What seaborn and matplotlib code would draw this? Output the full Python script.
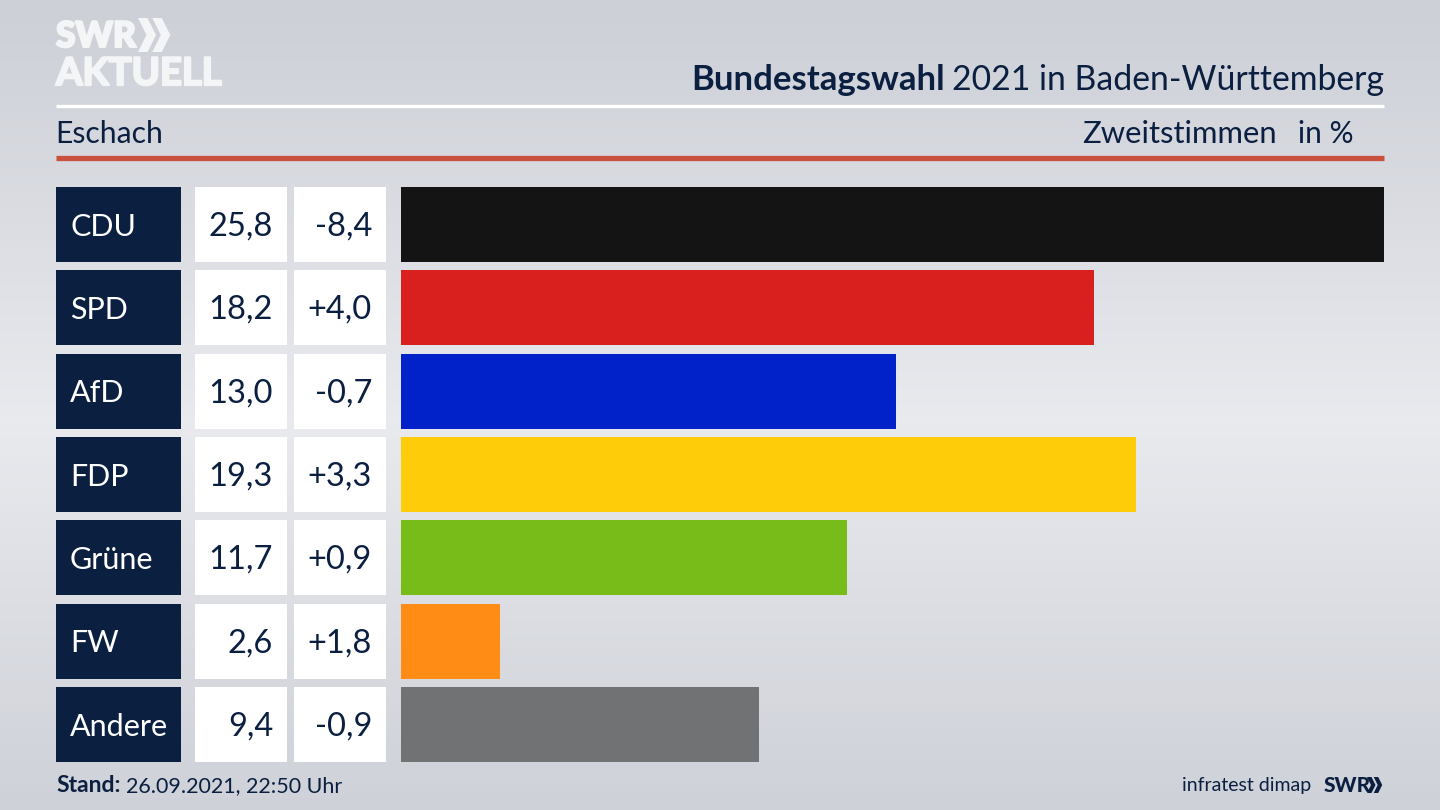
#!/usr/bin/env python3
import numpy as np
import pandas as pd
import matplotlib.pyplot as plt
import matplotlib.patheffects as pe
import seaborn as sns

sns.set_theme(style="white")
plt.rcParams["font.family"] = ["Lato", "DejaVu Sans"]

# data
parties = ["CDU", "SPD", "AfD", "FDP", "Grüne", "FW", "Andere"]
shares = [25.8, 18.2, 13.0, 19.3, 11.7, 2.6, 9.4]
changes = ["-8,4", "+4,0", "-0,7", "+3,3", "+0,9", "+1,8", "-0,9"]
share_labels = ["25,8", "18,2", "13,0", "19,3", "11,7", "2,6", "9,4"]
colors = ["#141414", "#d9201f", "#0022c8", "#ffcc0a", "#78bc1a", "#ff8c14", "#717274"]

NAVY = "#0b1f41"
LOGO = "#f4f5f6"
W, H = 1440, 810
# row area in pixels, with 0.9 wide bars the axes runs a bit past first/last bar
TOP, BOTTOM = 182.83, 766.17
BAR_L, BAR_R = 401, 1384

fig = plt.figure(figsize=(14.4, 8.1), dpi=100)

# background gradient
ax_bg = fig.add_axes([0, 0, 1, 1])
yy = np.linspace(0, 1, 200)
grad = 1 - np.abs(yy - 0.52) / 0.52
ax_bg.imshow(grad[:, None] ** 1.1, aspect="auto", cmap=sns.blend_palette(["#cdd0d7", "#e9eaee"], as_cmap=True),
             extent=[0, W, H, 0])
ax_bg.axis("off")

# overlay in pixel coords for header and footer
pix = fig.add_axes([0, 0, 1, 1])
pix.set_xlim(0, W)
pix.set_ylim(H, 0)
pix.axis("off")
pix.patch.set_alpha(0)

# same y scale as the bars, x in pixels
ax_tbl = fig.add_axes([0, 1 - BOTTOM / H, 1, (BOTTOM - TOP) / H])
ax_tbl.set_xlim(0, W)
ax_tbl.set_ylim(6.5, -0.5)
ax_tbl.axis("off")
ax_tbl.patch.set_alpha(0)

y = np.arange(len(parties))
ax_tbl.barh(y, 125, left=56, height=0.9, color=NAVY, lw=0)
ax_tbl.barh(y, 92, left=195, height=0.9, color="white", lw=0)
ax_tbl.barh(y, 92, left=294, height=0.9, color="white", lw=0)
for i in y:
    ax_tbl.text(70, i + 0.025, parties[i], color="white", fontsize=22, va="center", ha="left")
    ax_tbl.text(273, i + 0.025, share_labels[i], color=NAVY, fontsize=23.5, va="center", ha="right")
    ax_tbl.text(372, i + 0.025, changes[i], color=NAVY, fontsize=23.5, va="center", ha="right")

# bars
df = pd.DataFrame({"party": parties, "share": shares})
ax = fig.add_axes([BAR_L / W, 1 - BOTTOM / H, (BAR_R - BAR_L) / W, (BOTTOM - TOP) / H])
sns.barplot(data=df, y="party", x="share", hue="party", palette=colors, legend=False,
            width=0.9, saturation=1, linewidth=0, ax=ax)
ax.set_xlim(0, 25.8)
ax.set_ylim(6.5, -0.5)
ax.axis("off")
ax.patch.set_alpha(0)

# header
pix.plot([56, 1384], [105.5, 105.5], color="white", lw=2.4, solid_capstyle="butt")
pix.plot([56, 1384], [157.5, 157.5], color="#c9503c", lw=3.8, solid_capstyle="butt")
pix.text(945, 80, "Bundestagswahl", color=NAVY, fontsize=25, fontweight="bold", ha="right", va="center")
pix.text(1384, 80, "2021 in Baden-Württemberg", color=NAVY, fontsize=24.3, ha="right", va="center")
pix.text(55, 134, "Eschach", color=NAVY, fontsize=21.7, ha="left", va="center")
pix.text(1277, 134, "Zweitstimmen", color=NAVY, fontsize=22.3, ha="right", va="center")
pix.text(1354, 134, "in %", color=NAVY, fontsize=21.5, ha="right", va="center")


def chevrons(x0, y0, h, color):
    # two arrow heads of the logo
    w = h * 0.25
    t = h * 0.28
    for dx in (0, h * 0.42):
        xs = [x0 + dx, x0 + dx + t, x0 + dx + t + w, x0 + dx + t, x0 + dx, x0 + dx + w]
        ys = [y0, y0, y0 + h / 2, y0 + h, y0 + h, y0 + h / 2]
        pix.fill(xs, ys, color=color, lw=0)


# logo
heavy = [pe.withStroke(linewidth=1.6, foreground=LOGO)]
pix.text(56, 37, "SWR", color=LOGO, fontsize=25.5, fontweight="black", ha="left", va="center", path_effects=heavy)
chevrons(138, 18, 34, LOGO)
pix.text(56, 74, "AKTUELL", color=LOGO, fontsize=27.5, fontweight="bold", ha="left", va="center", path_effects=heavy)

# footer
pix.text(56, 786, "Stand:", color=NAVY, fontsize=16.5, fontweight="bold", ha="left", va="center")
pix.text(126, 786, "26.09.2021, 22:50 Uhr", color=NAVY, fontsize=15.5, ha="left", va="center")
pix.text(1311, 785, "infratest dimap", color=NAVY, fontsize=14, ha="right", va="center")
pix.text(1324, 785, "SWR", color=NAVY, fontsize=15, fontweight="black", ha="left", va="center")
chevrons(1367, 777, 16, NAVY)

fig.savefig("out.png", dpi=100)
